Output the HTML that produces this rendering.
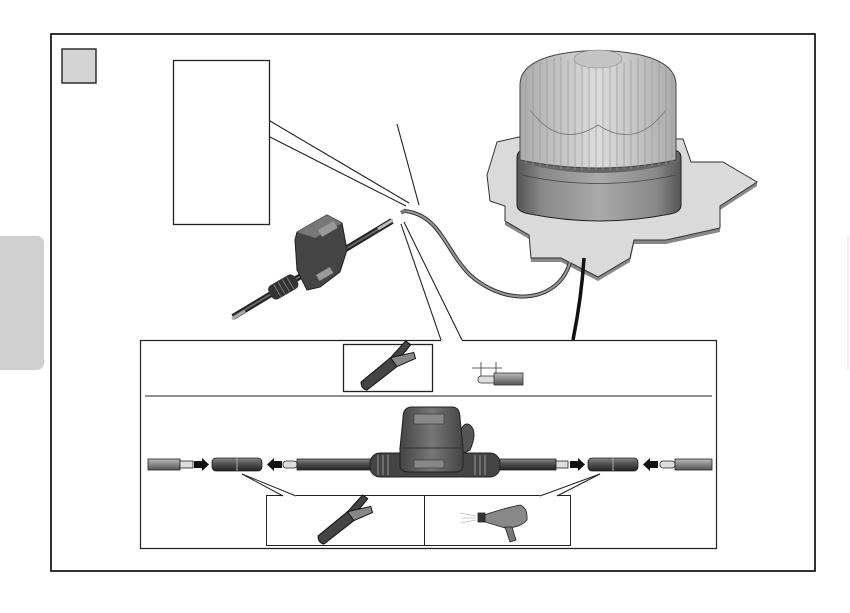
<!DOCTYPE html>
<html><head><meta charset="utf-8"><style>html,body{margin:0;padding:0;background:#fff}svg{display:block}</style></head>
<body>
<svg width="850" height="613" viewBox="0 0 850 613" xmlns="http://www.w3.org/2000/svg">
<defs>
<linearGradient id="cab" x1="0" y1="0" x2="0" y2="1"><stop offset="0" stop-color="#888"/><stop offset="0.4" stop-color="#555"/><stop offset="1" stop-color="#222"/></linearGradient>
<linearGradient id="gry" x1="0" y1="0" x2="0" y2="1"><stop offset="0" stop-color="#bbb"/><stop offset="0.5" stop-color="#888"/><stop offset="1" stop-color="#555"/></linearGradient>
<linearGradient id="dome" x1="0" y1="0" x2="1" y2="0"><stop offset="0" stop-color="#aaa"/><stop offset="0.5" stop-color="#dcdcdc"/><stop offset="1" stop-color="#aaa"/></linearGradient>
<linearGradient id="base" x1="0" y1="0" x2="1" y2="0"><stop offset="0" stop-color="#555"/><stop offset="0.15" stop-color="#888"/><stop offset="0.5" stop-color="#aaa"/><stop offset="0.85" stop-color="#888"/><stop offset="1" stop-color="#555"/></linearGradient>
<linearGradient id="body" x1="0" y1="0" x2="1" y2="0"><stop offset="0" stop-color="#444"/><stop offset="0.5" stop-color="#777"/><stop offset="1" stop-color="#444"/></linearGradient>
</defs>
<path d="M0,236 H36 Q44,236 44,244 V362 Q44,370 36,370 H0 Z" fill="#d0d0d0"/>
<line x1="848" y1="236" x2="848" y2="370" stroke="#f0d8dc" stroke-width="1"/>
<rect x="51" y="34" width="764" height="537" fill="none" stroke="#000" stroke-width="1.6"/>
<rect x="62" y="49" width="34" height="34" fill="#d4d4d4" stroke="#222" stroke-width="1.4"/>
<rect x="173.5" y="60.5" width="96" height="164" fill="none" stroke="#222" stroke-width="1.3"/>
<line x1="270" y1="121" x2="409" y2="203" stroke="#222" stroke-width="1.1"/>
<line x1="270" y1="137" x2="406" y2="206" stroke="#222" stroke-width="1.1"/>
<line x1="397" y1="124" x2="419" y2="205" stroke="#222" stroke-width="1.1"/>
<polygon points="505,206 505,221 529,235 531,258 561,258 598,277 630,258 634,240 666,240 720,228 720,206 757,182 757,186 720,210 720,232 666,244 634,244 630,262 598,281 561,262 531,262 529,239 505,225" fill="#888"/>
<polygon points="497,142 519,137 683,139 691,162 723,162 757,182 720,206 720,228 666,240 634,240 630,258 598,277 561,258 531,258 529,235 505,221 505,206 490,201 487,175" fill="#dadada" stroke="#333" stroke-width="1"/>
<path d="M517,158 Q517,150 525,150 H672 Q681,150 681,158 V205 Q681,212 670,214 Q600,228 530,214 Q517,212 517,205 Z" fill="url(#base)" stroke="#222" stroke-width="1"/>
<path d="M519,152 Q598,172 679,152 L679,162 Q598,184 519,162 Z" fill="#666"/>
<path d="M522,175 Q598,192 676,175" fill="none" stroke="#444" stroke-width="0.8"/>
<path d="M520,160 V85 Q520,62 560,54 Q598,47 636,54 Q676,62 676,85 V160 Q598,176 520,160 Z" fill="url(#dome)" stroke="#444" stroke-width="1"/>
<g stroke="#999" stroke-width="0.7">
<line x1="526" y1="72" x2="526" y2="163"/><line x1="533" y1="66" x2="533" y2="165"/><line x1="540" y1="62" x2="540" y2="166"/><line x1="547" y1="60" x2="547" y2="167"/><line x1="554" y1="58" x2="554" y2="168"/><line x1="561" y1="57" x2="561" y2="169"/><line x1="568" y1="60" x2="568" y2="169"/><line x1="575" y1="62" x2="575" y2="170"/><line x1="582" y1="64" x2="582" y2="170"/><line x1="589" y1="66" x2="589" y2="170"/><line x1="596" y1="66" x2="596" y2="170"/><line x1="603" y1="66" x2="603" y2="170"/><line x1="610" y1="66" x2="610" y2="170"/><line x1="617" y1="64" x2="617" y2="170"/><line x1="624" y1="62" x2="624" y2="169"/><line x1="631" y1="60" x2="631" y2="169"/><line x1="638" y1="57" x2="638" y2="168"/><line x1="645" y1="58" x2="645" y2="167"/><line x1="652" y1="60" x2="652" y2="166"/><line x1="659" y1="62" x2="659" y2="165"/><line x1="666" y1="66" x2="666" y2="164"/><line x1="672" y1="72" x2="672" y2="162"/>
</g>
<path d="M530,110 Q560,150 598,125 Q636,150 666,110" fill="none" stroke="#777" stroke-width="0.8"/>
<ellipse cx="598" cy="59" rx="24" ry="9" fill="#c4c4c4" stroke="#888" stroke-width="0.6"/>
<path d="M405,211 C440,215 445,250 470,275 C510,310 560,300 570,262" fill="none" stroke="#333" stroke-width="4"/>
<path d="M405,211 C440,215 445,250 470,275 C510,310 560,300 570,262" fill="none" stroke="#999" stroke-width="2"/>
<path d="M584,258 C582,290 578,315 573,340" fill="none" stroke="#111" stroke-width="3.5"/>
<line x1="401" y1="213" x2="406" y2="210" stroke="#777" stroke-width="4"/>
<line x1="233" y1="317" x2="392" y2="221" stroke="#222" stroke-width="6"/>
<line x1="233" y1="317" x2="392" y2="221" stroke="#666" stroke-width="2"/>
<line x1="378" y1="229" x2="393" y2="220" stroke="#bbb" stroke-width="3"/>
<line x1="232" y1="319" x2="245" y2="311" stroke="#aaa" stroke-width="3"/>
<g transform="rotate(-30 285 286)"><rect x="268" y="278" width="30" height="16" rx="5" fill="#333"/>
<g stroke="#777" stroke-width="1"><line x1="276" y1="279" x2="276" y2="293"/><line x1="281" y1="279" x2="281" y2="293"/><line x1="286" y1="279" x2="286" y2="293"/><line x1="291" y1="279" x2="291" y2="293"/></g></g>
<polygon points="297,232 327,215 342,223 347,250 340,272 320,287 307,290 297,270 295,240" fill="#444" stroke="#222"/>
<polygon points="297,232 327,215 342,223 315,238" fill="#777"/>
<rect x="318" y="230" width="18" height="8" fill="#999" transform="rotate(-30 318 230)"/>
<rect x="316" y="275" width="16" height="7" fill="#999" transform="rotate(-30 316 275)"/>
<line x1="401" y1="224" x2="441" y2="340" stroke="#222" stroke-width="1.1"/>
<line x1="404" y1="222" x2="462" y2="340" stroke="#222" stroke-width="1.1"/>
<path d="M441,340.5 H140.5 V548.5 H716.5 V340.5 H462" fill="none" stroke="#222" stroke-width="1.2"/>
<line x1="145" y1="396" x2="712" y2="396" stroke="#222" stroke-width="1"/>
<rect x="343.5" y="344.5" width="89" height="47" fill="none" stroke="#222" stroke-width="1.3"/>
<g transform="translate(388,368) rotate(-35)">
<path d="M-30,-4 L8,-7 L30,-12 L32,-6 L10,0 L8,4 L-30,6 Q-34,1 -30,-4Z" fill="#444" stroke="#111"/>
<path d="M8,-7 L30,2 L28,8 L8,4Z" fill="#888" stroke="#111"/>
</g>
<line x1="472" y1="368" x2="502" y2="368" stroke="#333" stroke-width="0.8"/>
<line x1="481" y1="362" x2="481" y2="378" stroke="#333" stroke-width="0.8"/>
<line x1="496" y1="362" x2="496" y2="374" stroke="#333" stroke-width="0.8"/>
<rect x="478" y="376" width="18" height="7" rx="3" fill="#ddd" stroke="#333" stroke-width="0.8"/>
<rect x="494" y="373" width="29" height="12" fill="url(#gry)" stroke="#333" stroke-width="0.8"/>
<g stroke="#222" stroke-width="0.8">
<rect x="148" y="459" width="32" height="11" fill="url(#gry)"/>
<rect x="180" y="461" width="13" height="7" fill="#ddd"/>
<rect x="212" y="458" width="50" height="13" rx="4" fill="url(#cab)"/>
<rect x="283" y="461" width="14" height="7" rx="3" fill="#ddd"/>
<rect x="297" y="459" width="80" height="11" fill="url(#cab)"/>
<rect x="490" y="459" width="66" height="11" fill="url(#cab)"/>
<rect x="556" y="461" width="12" height="7" fill="#ddd"/>
<rect x="588" y="458" width="50" height="13" rx="4" fill="url(#cab)"/>
<rect x="660" y="461" width="15" height="7" rx="3" fill="#ddd"/>
<rect x="675" y="459" width="37" height="11" fill="url(#gry)"/>
</g>
<line x1="237" y1="458" x2="237" y2="471" stroke="#aaa"/><line x1="613" y1="458" x2="613" y2="471" stroke="#aaa"/>
<g fill="#111">
<polygon points="194,461 202,461 202,458 209,464.5 202,471 202,468 194,468"/>
<polygon points="282,461 274,461 274,458 267,464.5 274,471 274,468 282,468"/>
<polygon points="570,461 578,461 578,458 585,464.5 578,471 578,468 570,468"/>
<polygon points="658,461 650,461 650,458 643,464.5 650,471 650,468 658,468"/>
</g>
<rect x="370" y="453" width="130" height="24" rx="10" fill="#444" stroke="#222"/>
<g stroke="#999" stroke-width="1"><line x1="378" y1="455" x2="378" y2="475"/><line x1="383" y1="455" x2="383" y2="475"/><line x1="388" y1="455" x2="388" y2="475"/><line x1="475" y1="455" x2="475" y2="475"/><line x1="480" y1="455" x2="480" y2="475"/><line x1="485" y1="455" x2="485" y2="475"/></g>
<path d="M458,440 Q462,420 470,425 Q478,432 470,450 L460,455Z" fill="#555" stroke="#222"/>
<path d="M403,418 Q403,407 412,407 H452 Q460,407 460,418 L463,448 V465 Q463,472 455,472 H410 Q400,472 400,465 V448 Z" fill="url(#body)" stroke="#222"/>
<line x1="400" y1="448" x2="463" y2="448" stroke="#333"/>
<rect x="414" y="414" width="30" height="10" fill="#888" stroke="#333" stroke-width="0.6"/>
<rect x="414" y="460" width="30" height="8" fill="#888" stroke="#333" stroke-width="0.6"/>
<g stroke="#222" stroke-width="1" fill="none">
<line x1="242" y1="474" x2="283" y2="496"/><line x1="242" y1="474" x2="296" y2="496"/>
<line x1="600" y1="474" x2="540" y2="496"/><line x1="600" y1="474" x2="557" y2="496"/>
<path d="M283,495.5 H266.5 V545.5 H570.5 V495.5 H557 M540,495.5 H296"/>
<line x1="424.5" y1="496" x2="424.5" y2="545"/>
</g>
<g transform="translate(345,522) rotate(-35)">
<path d="M-30,-4 L8,-7 L30,-12 L32,-6 L10,0 L8,4 L-30,6 Q-34,1 -30,-4Z" fill="#444" stroke="#111"/>
<path d="M8,-7 L30,2 L28,8 L8,4Z" fill="#888" stroke="#111"/>
</g>
<g stroke="#222" stroke-width="0.8">
<path d="M484,515 Q505,508 520,505 Q528,508 527,520 Q520,528 505,528 L485,522Z" fill="#888"/>
<path d="M505,527 L512,527 L516,540 L510,542Z" fill="#777"/>
<rect x="478" y="513" width="7" height="9" fill="#333"/>
</g>
<g stroke="#bbb" stroke-width="0.8"><line x1="460" y1="513" x2="476" y2="516"/><line x1="462" y1="518" x2="476" y2="518"/><line x1="461" y1="523" x2="476" y2="520"/></g>
</svg>
</body></html>
